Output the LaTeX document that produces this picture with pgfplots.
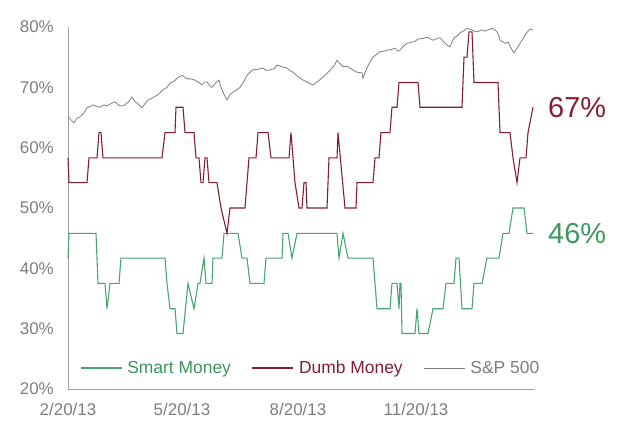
\documentclass[border=0pt]{standalone}
\usepackage{pgfplots}
\pgfplotsset{compat=1.18}
\usepackage{fontspec}
\setmainfont{Liberation Sans}
\definecolor{smartc}{RGB}{72,165,112}
\definecolor{smarttxt}{RGB}{60,150,95}
\definecolor{dumbc}{RGB}{130,30,50}
\definecolor{spc}{RGB}{125,125,125}
\definecolor{axc}{RGB}{160,160,160}
\definecolor{tickc}{RGB}{125,125,125}
\begin{document}
\begin{tikzpicture}
\useasboundingbox (-68bp,-48bp) rectangle (572bp,389bp);
\begin{axis}[
  at={(0,0)}, anchor=south west,
  scale only axis, width=467bp, height=362bp,
  xmin=68, xmax=535, ymin=20, ymax=80,
  axis x line*=bottom, axis y line*=left,
  axis line style={axc, line width=0.9pt, -},
  major tick length=0pt,
  xtick={68,182,298,416},
  xticklabels={2/20/13,5/20/13,8/20/13,11/20/13},
  ytick={20,30,40,50,60,70,80},
  yticklabels={20\%,30\%,40\%,50\%,60\%,70\%,80\%},
  ticklabel style={font=\fontsize{17}{20}\selectfont, text=tickc},
  yticklabel style={anchor=east, inner sep=0pt, xshift=-14bp},
  xticklabel style={anchor=north, inner sep=0pt, yshift=-14bp},
  clip=false,
  legend columns=3,
  legend style={at={(9bp,21bp)}, anchor=west, draw=none, fill=none,
    font=\fontsize{17.5}{20}\selectfont,
    /tikz/every even column/.append style={column sep=19bp},
    /tikz/every odd column/.append style={column sep=3bp}},
  legend cell align=left,
  legend image code/.code={\draw[#1] (0bp,0bp) -- (41bp,0bp);},
]
\addplot[smartc, line width=1.1pt] coordinates {
(68,41.7) (69,45.8) (96,45.8) (98,37.5) (105,37.5) (107,33.3) (110,37.5) (119,37.5)
(121,41.7) (165,41.7) (167,37.5) (170,33.3) (175,33.3) (177,29.2) (183,29.2) (188,37.5)
(194,33.3) (198,37.5) (200,37.5) (204,41.7) (206,37.5) (212,37.5) (213,41.7) (222,41.7)
(224,45.8) (238,45.8) (242,41.7) (247,41.7) (250,37.5) (264,37.5) (266,41.7) (282,41.7)
(283,45.8) (288,45.8) (292,41.7) (297,45.8) (337,45.8) (339,41.7) (343,45.8) (348,41.7)
(373,41.7) (377,33.3) (390,33.3) (392,37.5) (397,37.5) (399,33.3) (400,37.5) (401,37.5)
(402,29.2) (415,29.2) (417,33.3) (419,29.2) (428,29.2) (433,33.3) (443,33.3) (446,37.5)
(454,37.5) (456,41.7) (459,41.7) (462,33.3) (472,33.3) (474,37.5) (482,37.5) (487,41.7)
(499,41.7) (503,45.8) (509,45.8) (513,50) (524,50) (527,45.8) (533,45.8)
};
\addlegendentry{\textcolor{smarttxt}{Smart Money}}
\addplot[dumbc, line width=1.1pt] coordinates {
(68,58.3) (69,54.2) (87,54.2) (89,58.3) (97,58.3) (99,62.5) (101,62.5) (103,58.3)
(162,58.3) (165,62.5) (175,62.5) (176,66.7) (183,66.7) (185,62.5) (194,62.5) (196,58.3)
(199,58.3) (201,54.2) (203,54.2) (205,58.3) (207,58.3) (209,54.2) (217,54.2) (221,50)
(227,45.8) (230,50) (245,50) (247,54.2) (249,58.3) (256,58.3) (258,62.5) (268,62.5)
(271,58.3) (289,58.3) (291,62.5) (295,54.2) (299,50) (302,50) (304,54.2) (306,54.2)
(307,50) (327,50) (329,58.3) (337,58.3) (338,62.5) (345,50) (356,50) (357,54.2)
(373,54.2) (375,58.3) (379,58.3) (381,62.5) (390,62.5) (392,66.7) (397,66.7) (399,70.8)
(418,70.8) (420,66.7) (462,66.7) (464,75) (467,75) (469,79.2) (472,79.2) (474,70.8)
(498,70.8) (500,62.5) (510,62.5) (513,58.3) (517,54.2) (520,58.3) (526,58.3) (528,62.5)
(533,66.7)
};
\addlegendentry{\textcolor{dumbc}{Dumb Money}}
\addplot[spc, line width=0.8pt] coordinates {
(68,65.1) (71,64.6) (74,64.1) (77,64.9) (80,65.1) (84,65.8) (87,66.6) (90,66.8)
(93,67.1) (97,66.8) (100,66.7) (104,67.1) (107,66.9) (111,67.3) (115,67.6) (119,67.0)
(123,66.9) (128,67.5) (132,68.4) (135,67.6) (137,67.4) (140,66.9) (142,66.6) (145,67.3)
(148,67.9) (152,68.2) (157,68.7) (160,69.1) (163,69.6) (167,70.0) (170,70.7) (174,71.0)
(177,71.5) (182,72.0) (187,71.4) (191,71.4) (195,71.2) (199,70.8) (202,70.4) (205,70.9)
(207,70.9) (210,70.2) (212,70.0) (216,70.8) (219,71.2) (221,70.0) (223,69.2) (227,67.9)
(230,68.8) (233,69.2) (237,69.6) (240,70.0) (244,71.0) (247,72.0) (250,72.5) (253,72.9)
(258,73.0) (263,73.2) (266,72.8) (270,72.9) (274,73.1) (277,73.7) (282,73.4) (287,73.2)
(290,72.8) (293,72.5) (297,71.9) (300,71.6) (303,71.2) (307,70.9) (310,70.6) (313,70.4)
(318,71.0) (323,71.7) (327,72.3) (332,73.2) (335,73.8) (337,74.5) (340,73.9) (343,73.4)
(347,73.5) (350,73.2) (354,72.8) (357,72.5) (362,72.4) (363,71.5) (365,72.4) (367,73.2)
(370,74.2) (373,75.0) (377,75.5) (380,75.9) (384,76.0) (388,76.2) (392,76.3) (395,76.5)
(398,76.0) (400,76.2) (404,76.9) (407,77.3) (412,77.5) (415,77.6) (418,78.0) (422,78.1)
(427,78.3) (430,78.1) (433,77.8) (437,78.1) (440,78.2) (443,77.7) (445,77.3) (448,76.9)
(450,76.7) (452,77.5) (454,78.2) (457,78.5) (460,79.0) (464,79.4) (467,79.8) (470,79.6)
(472,79.5) (475,79.3) (477,79.2) (480,79.4) (482,79.5) (485,79.3) (487,79.5) (490,79.6)
(492,79.8) (495,79.5) (497,79.2) (499,78.5) (500,77.8) (503,77.5) (505,77.3) (508,77.5)
(511,76.5) (514,75.7) (517,76.5) (520,77.3) (523,78.0) (525,78.7) (528,79.3) (530,79.7)
(533,79.5)
};
\addlegendentry{\textcolor{spc}{S\&P 500}}
\node[anchor=west, inner sep=0pt, text=dumbc, font=\fontsize{29}{32}\selectfont] at (axis cs:548,66.7) {67\%};
\node[anchor=west, inner sep=0pt, text=smarttxt, font=\fontsize{29}{32}\selectfont] at (axis cs:548,45.8) {46\%};
\end{axis}
\end{tikzpicture}
\end{document}
